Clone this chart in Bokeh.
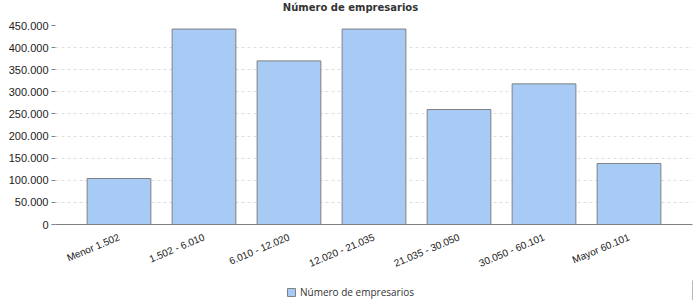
from bokeh.plotting import figure
from bokeh.layouts import column
from bokeh.models import (FactorRange, CustomJSTickFormatter, Legend, LegendItem,
                          ColumnDataSource, Range1d, Label)
from bokeh.embed import file_html
from bokeh.resources import INLINE

categories = ["Menor 1.502", "1.502 - 6.010", "6.010 - 12.020", "12.020 - 21.035",
              "21.035 - 30.050", "30.050 - 60.101", "Mayor 60.101"]
values = [104000, 442000, 370000, 442000, 260000, 318000, 138000]
series_name = "Número de empresarios"
chart_title = "Número de empresarios"

BAR_FILL = "#A8CBF5"
BAR_LINE = "#808080"

# --- title strip (frame aligned with the main chart's frame, which starts at x=55) ---
p0 = figure(width=700, height=19, output_backend="svg", toolbar_location=None,
            title=None, x_range=Range1d(0, 1), y_range=Range1d(0, 1),
            min_border=0, min_border_left=0, min_border_right=0,
            min_border_top=0, min_border_bottom=0)
p0.axis.visible = False
p0.grid.visible = False
p0.outline_line_color = None
p0.add_layout(Label(x=295, y=12, x_units="screen", y_units="screen", text=chart_title,
                    text_align="center", text_baseline="middle",
                    text_font="DejaVu Sans", text_font_size="10px",
                    text_font_style="bold", text_color="#333333"))

# --- main chart ---
src = ColumnDataSource(dict(cat=categories, val=values))

p = figure(width=700, height=261, output_backend="svg", toolbar_location=None, title=None,
           x_range=FactorRange(*categories, range_padding=0.247, range_padding_units="absolute"),
           y_range=Range1d(0, 450000),
           min_border_left=55, min_border_right=8, min_border_top=6, min_border_bottom=56)

p.vbar(x="cat", top="val", width=0.75, source=src, fill_color=BAR_FILL,
       line_color=BAR_LINE, line_width=1)

p.outline_line_color = None
p.background_fill_color = "white"
p.border_fill_color = "white"

p.xgrid.grid_line_color = None
p.ygrid.grid_line_color = "#DDDDDD"
p.ygrid.grid_line_dash = "3 3"

p.yaxis.formatter = CustomJSTickFormatter(code="""
    return Math.round(tick).toString().replace(/\\B(?=(\\d{3})+(?!\\d))/g, '.');
""")
p.yaxis.ticker.desired_num_ticks = 10
p.yaxis.axis_line_color = None
p.yaxis.major_tick_line_color = "#808080"
p.yaxis.major_tick_in = 0
p.yaxis.major_tick_out = 4
p.yaxis.minor_tick_line_color = None
p.yaxis.major_label_text_font = "Liberation Sans"
p.yaxis.major_label_text_font_size = "11px"
p.yaxis.major_label_text_color = "#222222"
p.yaxis.major_label_standoff = 3

p.xaxis.axis_line_color = "#808080"
p.xaxis.major_tick_line_color = None
p.xaxis.minor_tick_line_color = None
p.xaxis.major_label_orientation = 0.4
p.xaxis.major_label_text_font = "Liberation Sans"
p.xaxis.major_label_text_font_size = "10px"
p.xaxis.major_label_text_color = "#222222"
p.xaxis.major_label_standoff = 6

# --- legend strip ---
p2 = figure(width=700, height=20, output_backend="svg", toolbar_location=None, title=None,
            x_range=Range1d(0, 1), y_range=Range1d(0, 1),
            min_border=0, min_border_left=0, min_border_right=0,
            min_border_top=0, min_border_bottom=0)
p2.axis.visible = False
p2.grid.visible = False
p2.outline_line_color = None
dummy = p2.vbar(x=[5], top=[5], width=0.1, fill_color=BAR_FILL, line_color=BAR_LINE)
legend = Legend(items=[LegendItem(label=series_name, renderers=[dummy])],
                location=(231, 1), orientation="horizontal",
                label_text_font="Open Sans", label_text_font_size="10px",
                label_text_color="#333333", glyph_width=10, glyph_height=10,
                border_line_color=None, background_fill_alpha=0, padding=2,
                label_standoff=4, margin=0)
p2.add_layout(legend, "center")

layout = column(p0, p, p2, spacing=0)
open("out.html", "w").write(file_html(layout, INLINE))
